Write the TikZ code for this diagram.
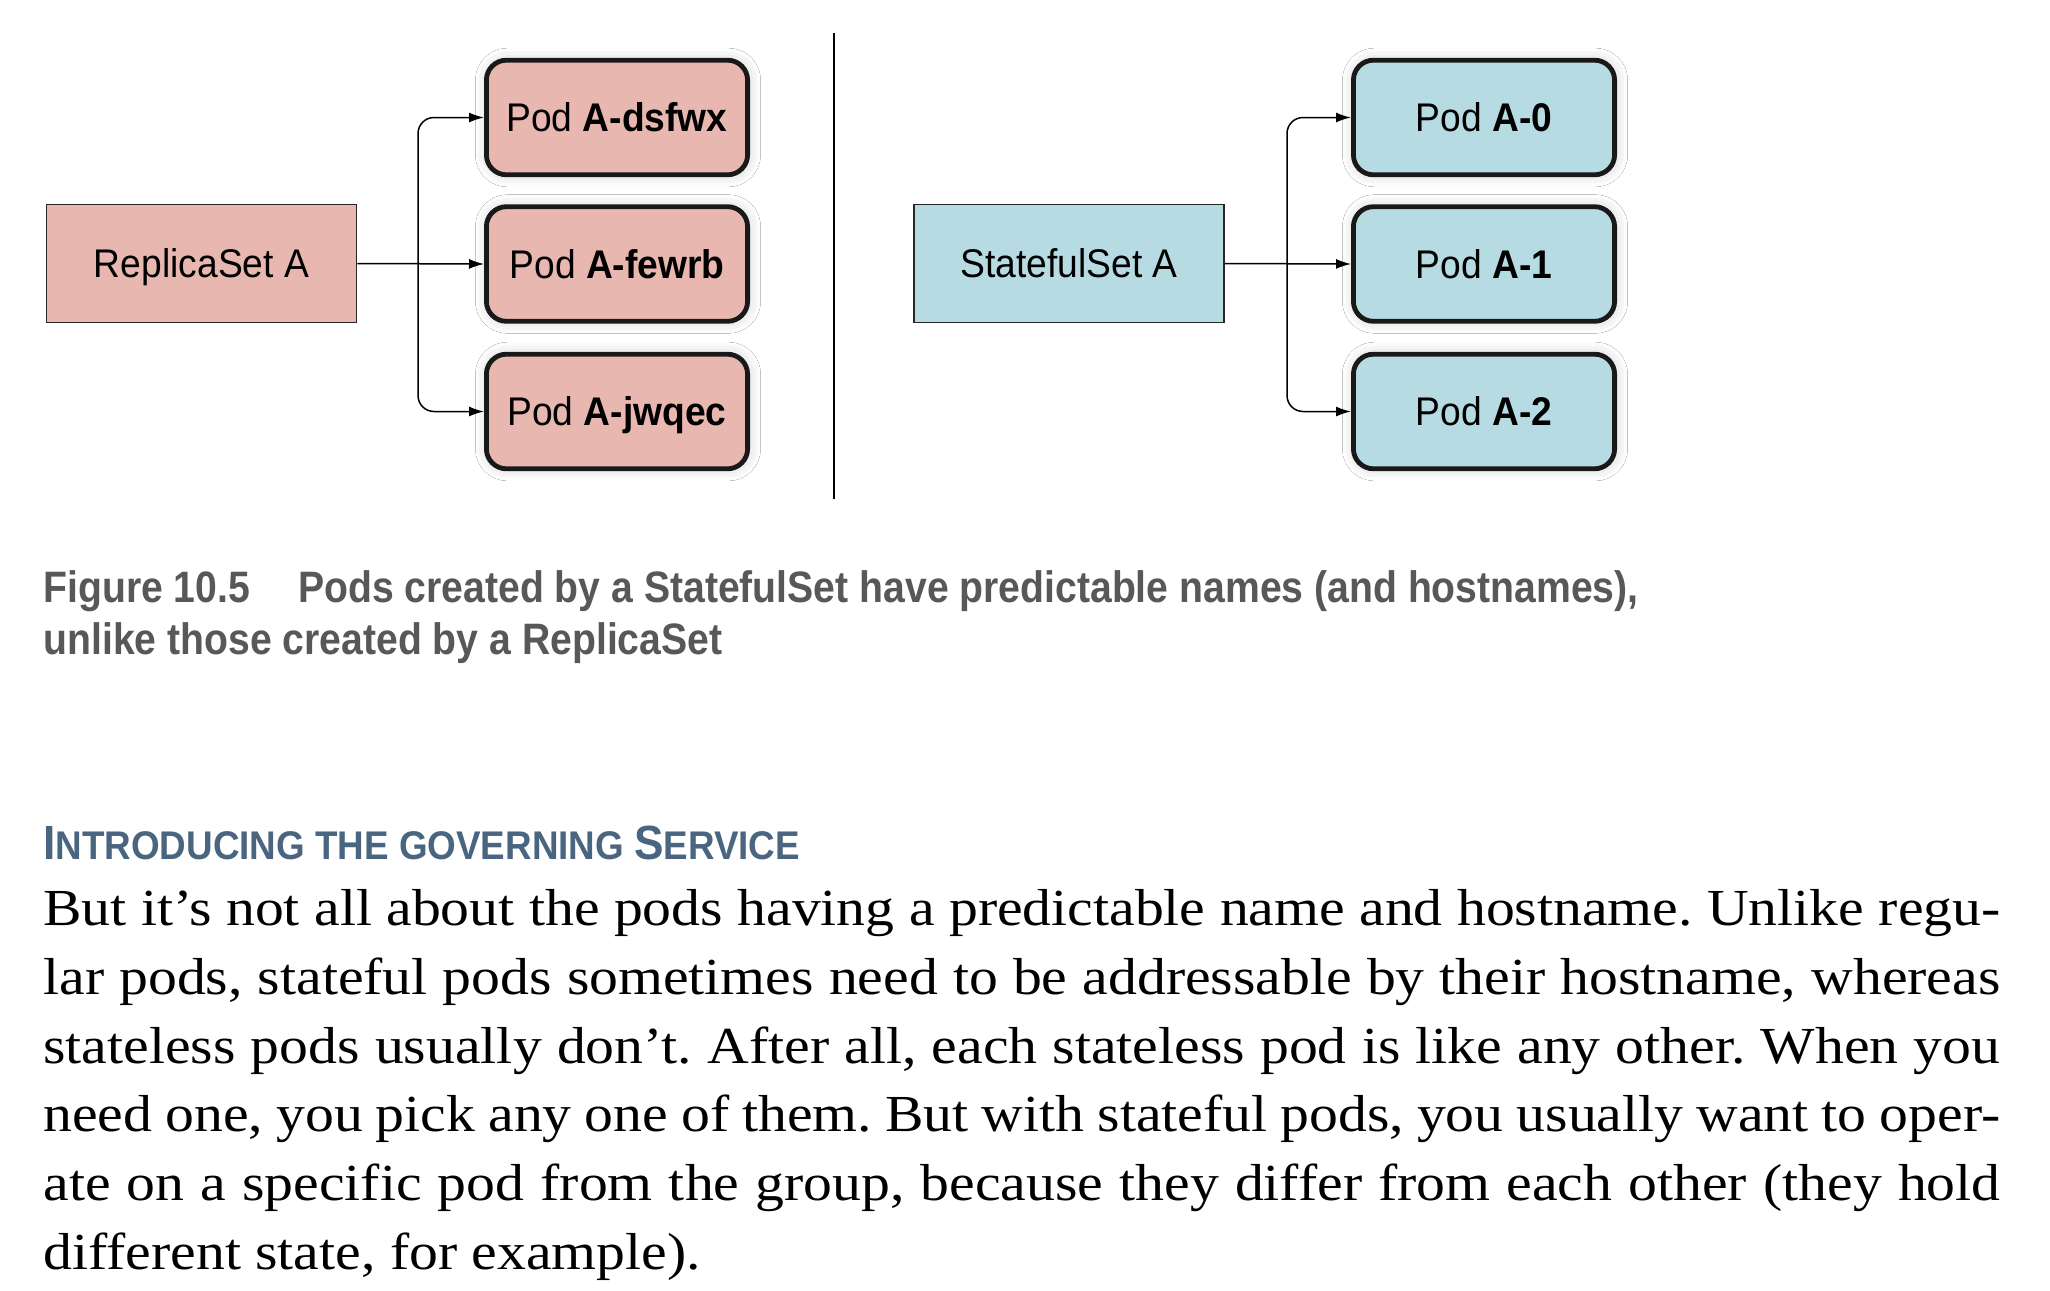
\documentclass[tikz,border=0pt]{standalone}
\usepackage{fontspec}
\setmainfont{Liberation Serif}[FakeStretch=1.11]
\newfontfamily\diagfont[FakeStretch=0.93]{Liberation Sans}
\newfontfamily\capfont[FakeStretch=0.89]{Liberation Sans}
\newfontfamily\headfont[FakeStretch=0.92]{Liberation Sans}
\usetikzlibrary{arrows.meta}
\usetikzlibrary{shadows.blur}
\definecolor{rspink}{HTML}{E8B7B0}
\definecolor{ssblue}{HTML}{B6DBE2}
\definecolor{capgray}{HTML}{585858}
\definecolor{headblue}{HTML}{4A6580}

\begin{document}
\frenchspacing
\begin{tikzpicture}[x=0.5pt, y=-0.5pt,
    setbox/.style={draw=black!85, line width=0.8pt, minimum width=155pt, minimum height=59pt, inner sep=0pt, text depth=0pt, font=\diagfont\fontsize{20}{22}\selectfont},
    podbox/.style={draw=black!90, line width=2.4pt, rounded corners=10pt, minimum width=130.6pt, minimum height=57.3pt, inner sep=0pt, text depth=0pt, font=\diagfont\fontsize{20}{22}\selectfont, blur shadow={shadow xshift=0.5pt, shadow yshift=0pt, shadow blur radius=6pt, shadow opacity=20}},
    feed/.style={-{Latex[length=7.5pt,width=5pt]}, line width=0.75pt},
    branch/.style={feed, rounded corners=8pt}]
    \path[fill=white] (0,0) rectangle (2050,1290);%page
    % - ReplicaSet side
    \node[setbox, fill=rspink] (rs) at (201.5,263.5) {ReplicaSet A};
    \node[podbox, fill=rspink] (rp1) at (617,117.5) {Pod \textbf{A-dsfwx}};
    \node[podbox, fill=rspink] (rp2) at (617,264) {Pod \textbf{A-fewrb}};
    \node[podbox, fill=rspink] (rp3) at (617,411.5) {Pod \textbf{A-jwqec}};
    \coordinate (rj) at (418,263.5);
    \draw[feed] (rs.east) -- (rp2.west);
    \draw[branch] (rj) |- (rp1.west);
    \draw[branch] (rj) |- (rp3.west);
    % - Divider
    \coordinate (dtop) at (834,33);
    \coordinate (dbot) at (834,499);
    \draw[line width=1pt] (dtop) -- (dbot);
    % - StatefulSet side
    \node[setbox, fill=ssblue] (ss) at (1069,263.5) {StatefulSet A};
    \node[podbox, fill=ssblue] (sp0) at (1484,117.5) {Pod \textbf{A-0}};
    \node[podbox, fill=ssblue] (sp1) at (1484,264) {Pod \textbf{A-1}};
    \node[podbox, fill=ssblue] (sp2) at (1484,411.5) {Pod \textbf{A-2}};
    \coordinate (sj) at (1287,263.5);
    \draw[feed] (ss.east) -- (sp1.west);
    \draw[branch] (sj) |- (sp0.west);
    \draw[branch] (sj) |- (sp2.west);
    % - Caption
    \node[anchor=north west, inner sep=0pt, align=left, text=capgray,
        font=\capfont\bfseries\fontsize{22}{26}\selectfont] (cap) at (43,570)
        {Figure 10.5\hspace{24pt}Pods created by a StatefulSet have predictable names (and hostnames),\\unlike those created by a ReplicaSet};
    % - Section heading
    \node[anchor=north west, inner sep=0pt, text=headblue,
        font=\headfont\bfseries\fontsize{20}{24}\selectfont] (head) at (43,826)
        {{\fontsize{24}{24}\selectfont I}NTRODUCING THE GOVERNING {\fontsize{24}{24}\selectfont S}ERVICE};
    % - Body text
    \node[anchor=north west, inner sep=0pt, text width=978.5pt, align=justify,
        font=\fontsize{26}{34.4}\selectfont] (body) at (43,889)
        {But it’s not all about the pods having a predictable name and hostname. Unlike regu-\linebreak
        lar pods, stateful pods sometimes need to be addressable by their hostname, whereas\linebreak
        stateless pods usually don’t. After all, each stateless pod is like any other. When you\linebreak
        need one, you pick any one of them. But with stateful pods, you usually want to oper-\linebreak
        ate on a specific pod from the group, because they differ from each other (they hold\linebreak
        different state, for example).};
\end{tikzpicture}
\end{document}
